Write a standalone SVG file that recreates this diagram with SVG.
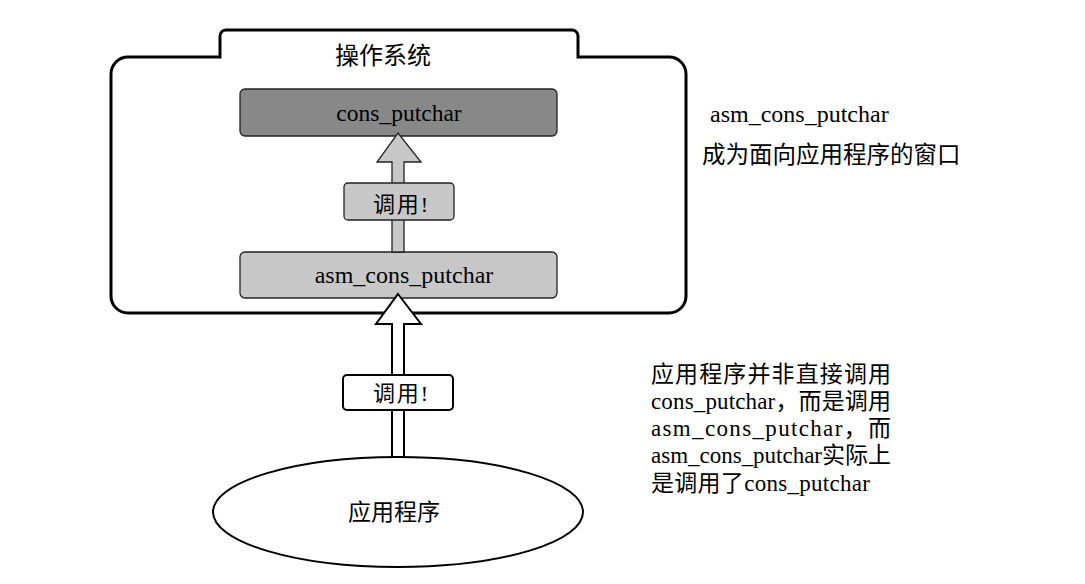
<svg xmlns="http://www.w3.org/2000/svg" width="1085" height="584" viewBox="0 0 1085 584">
<style>
.t{font-family:"Liberation Serif","Noto Sans CJK SC",serif;fill:#000}
.c{text-anchor:middle}
.box{stroke:#222;stroke-width:1.3}
</style>
<rect width="1085" height="584" fill="#fff"/>
<g id="os">
<path d="M111 74 A17 17 0 0 1 128 57 L220 57 L220 36 A6 6 0 0 1 226 30 L572 30 A6 6 0 0 1 578 36 L578 57 L669 57 A17 17 0 0 1 686 74 L686 296 A17 17 0 0 1 669 313 L128 313 A17 17 0 0 1 111 296 Z" fill="#fff" stroke="#000" stroke-width="3"/>
<text class="t c" x="383" y="64" font-size="24">操作系统</text>
</g>
<g id="cons_putchar">
<rect class="box" x="240" y="89" width="317" height="47" rx="5" fill="#888"/>
<text class="t c" x="399" y="121" font-size="23.5">cons_putchar</text>
</g>
<g id="asm_cons_putchar">
<rect class="box" x="240" y="252" width="317" height="46" rx="5" fill="#c8c8c8"/>
<text class="t c" x="404" y="283" font-size="24">asm_cons_putchar</text>
</g>
<g id="connectors">
<polygon points="398,133 421,162 404,162 404,252 392,252 392,162 377,162" fill="#c8c8c8" stroke="#222" stroke-width="1.3" stroke-linejoin="miter"/>
<polygon points="398,294 421,324 404,324 404,457 392,457 392,324 376,324" fill="#fff" stroke="#000" stroke-width="2"/>
</g>
<g id="call1">
<rect class="box" x="344" y="183" width="110" height="37" rx="4" fill="#c8c8c8"/>
<text class="t" x="373" y="212" font-size="22" textLength="55" lengthAdjust="spacing">调用!</text>
</g>
<g id="call2">
<rect x="343" y="375" width="110" height="35" rx="4" fill="#fff" stroke="#000" stroke-width="2"/>
<text class="t" x="373" y="401" font-size="22" textLength="55" lengthAdjust="spacing">调用!</text>
</g>
<g id="app">
<ellipse cx="398" cy="512" rx="185" ry="55" fill="#fff" stroke="#000" stroke-width="2"/>
<text class="t c" x="394" y="520" font-size="23">应用程序</text>
</g>
<g id="note1">
<text class="t" x="710" y="122" font-size="24">asm_cons_putchar</text>
<text class="t" x="702" y="163" font-size="23.5">成为面向应用程序的窗口</text>
</g>
<g id="note2" font-size="23">
<text class="t" x="651" y="382" textLength="240" lengthAdjust="spacing">应用程序并非直接调用</text>
<text class="t" x="651" y="409" textLength="240" lengthAdjust="spacing">cons_putchar，而是调用</text>
<text class="t" x="651" y="436" textLength="240" lengthAdjust="spacing">asm_cons_putchar，而</text>
<text class="t" x="651" y="463" textLength="240" lengthAdjust="spacing">asm_cons_putchar实际上</text>
<text class="t" x="651" y="491" textLength="219" lengthAdjust="spacing">是调用了cons_putchar</text>
</g>
</svg>
